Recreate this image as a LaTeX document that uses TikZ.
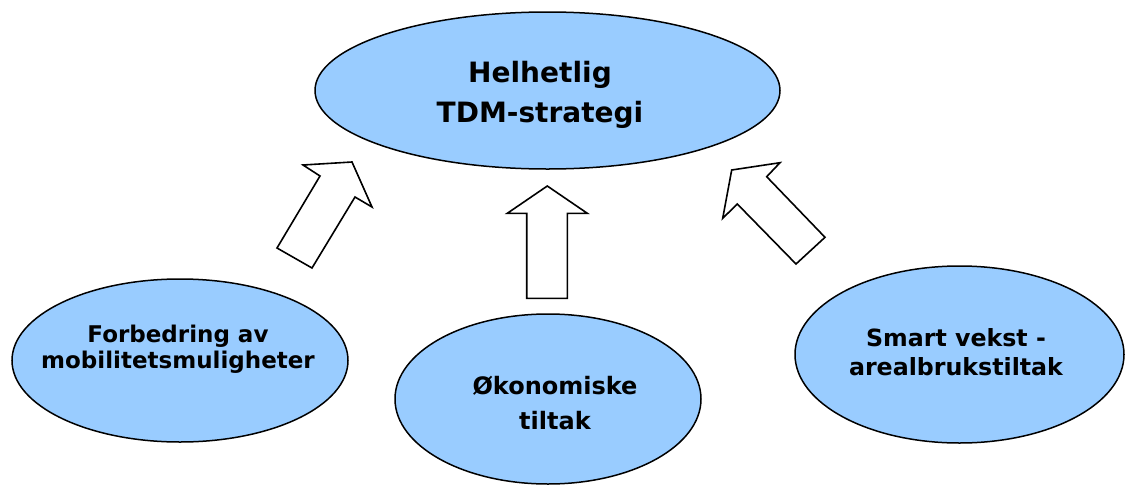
\documentclass[tikz,border=0pt]{standalone}
\usepackage{fontspec}
\setmainfont{DejaVu Sans}
\usetikzlibrary{shapes.geometric}
\definecolor{ellblue}{HTML}{99CCFF}
\tikzset{
  oval/.style={ellipse, draw=black, line width=1.5pt, fill=ellblue, inner sep=0pt},
  lbl/.style={align=center, font=\bfseries, text=black, inner sep=0pt},
  blockarrow/.style={draw=black, fill=white, line width=1.6pt, line join=miter}
}
\begin{document}
\begin{tikzpicture}[x=1pt,y=-1pt]
\useasboundingbox (0,0) rectangle (1125,485);
% ellipses
\node[oval, minimum width=465pt, minimum height=157pt] (top) at (547.5,90.5) {};
\node[oval, minimum width=336pt, minimum height=163pt] (left) at (180,360.5) {};
\node[oval, minimum width=306pt, minimum height=170pt] (mid) at (548,399) {};
\node[oval, minimum width=329pt, minimum height=177pt] (right) at (959.5,354.5) {};
% labels
\node[lbl, font=\bfseries\fontsize{28}{40}\selectfont] (toplbl) at (540,94.7) {Helhetlig\\TDM-strategi};
\node[lbl, font=\bfseries\fontsize{23}{26}\selectfont] (leftlbl) at (178,349) {Forbedring av\\mobilitetsmuligheter};
\node[lbl, font=\bfseries\fontsize{24}{35}\selectfont] (midlbl) at (555,403.4) {Økonomiske\\tiltak};
\node[lbl, font=\bfseries\fontsize{23.7}{29}\selectfont] (rightlbl) at (956,352.5) {Smart vekst -\\arealbrukstiltak};
% block arrows
\draw[blockarrow] (320,176) -- (303,165) -- (352,162) -- (372,207) -- (355,197) -- (312,268) -- (277,248) -- cycle;
\draw[blockarrow] (547.3,186) -- (587.3,213.3) -- (567.3,213.3) -- (567.3,298.3) -- (526.7,298.3) -- (526.7,213.3) -- (507.3,213.3) -- cycle;
\draw[blockarrow] (731.7,170) -- (780,162.7) -- (766.7,176.7) -- (825,237.3) -- (796,264) -- (737.3,204) -- (722.7,218.3) -- cycle;
\end{tikzpicture}
\end{document}
